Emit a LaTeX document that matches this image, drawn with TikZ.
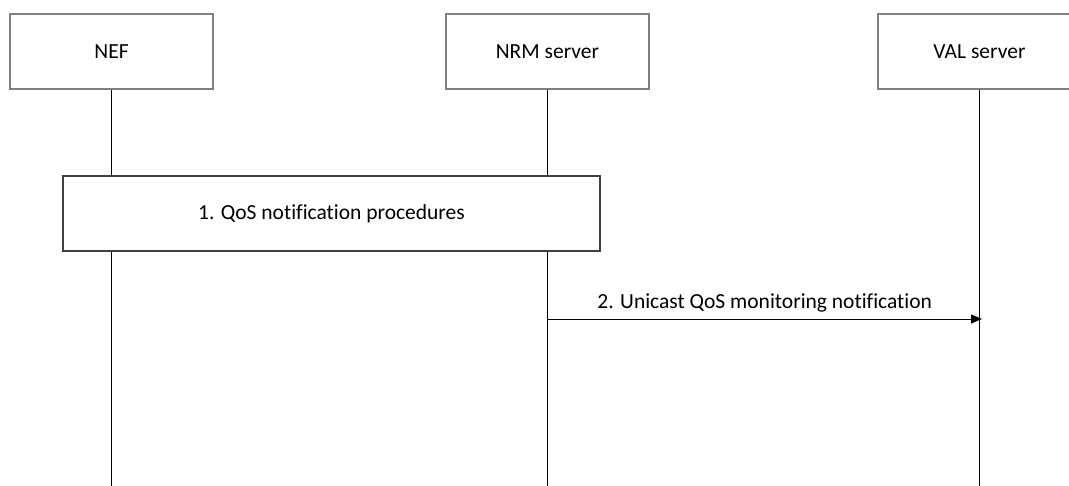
\documentclass[tikz,border=0pt]{standalone}
\usepackage{fontspec}
\setmainfont[Ligatures=NoCommon]{Carlito}
\usetikzlibrary{arrows.meta}

\tikzset{
  entity/.style={draw=black!50,line width=1.2pt,minimum width=203pt,minimum height=75pt,inner sep=0pt},
  procbox/.style={draw=black!75,line width=1.2pt,minimum width=537pt,minimum height=75pt,inner sep=0pt},
  lifeline/.style={black,line width=1.3pt},
  msg/.style={black,line width=1pt,-{Triangle[length=11pt,width=9pt]}}
}

\begin{document}
\begin{tikzpicture}[x=1pt,y=-1pt,font=\fontsize{21.5}{25}\selectfont]
\clip (0,0) rectangle (1069,485);
\useasboundingbox (0,0) rectangle (1069,485);
% entities
\node[entity] (nef) at (111.5,51.5) {NEF};
\node[entity] (nrm) at (547.5,51.5) {NRM server};
\node[entity] (val) at (979.5,51.5) {VAL server};
% lifelines
\coordinate (nefend) at (111.5,490);
\coordinate (nrmend) at (547.5,490);
\coordinate (valend) at (979.5,490);
\draw[lifeline] (nef.south) -- (nefend);
\draw[lifeline] (nrm.south) -- (nrmend);
\draw[lifeline] (val.south) -- (valend);
% step 1
\node[procbox,fill=white] (proc) at (331.5,213.5) {1. QoS notification procedures};
% step 2
\coordinate (msgfrom) at (547.5,319);
\coordinate (msgto) at (982,319);
\draw[msg] (msgfrom) -- node[above=3pt] {2. Unicast QoS monitoring notification} (msgto);
\end{tikzpicture}
\end{document}
